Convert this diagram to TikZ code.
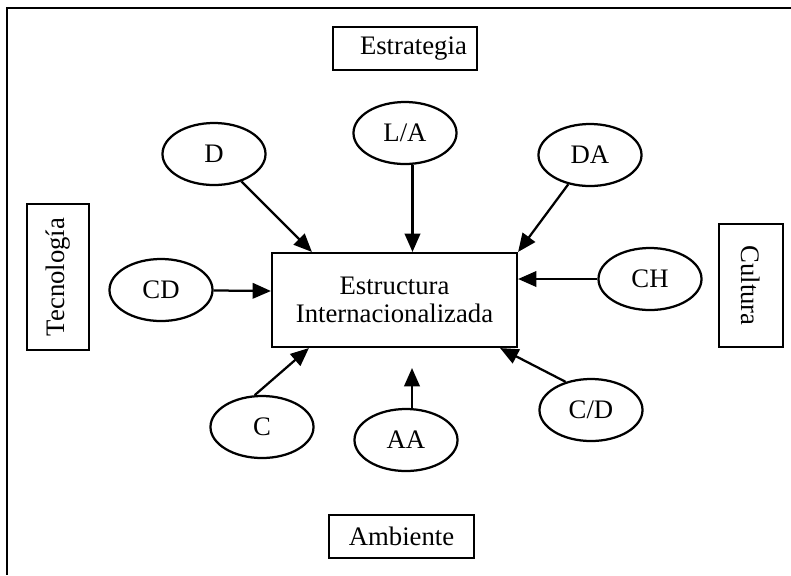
\documentclass[tikz,border=0pt]{standalone}
\usepackage{fontspec}
\setmainfont{Liberation Serif}
\usetikzlibrary{shapes.geometric, arrows.meta, calc}
\tikzset{
  frame/.style={draw=black, line width=1.8pt},
  side/.style={rectangle, draw=black, line width=1.5pt, align=center, inner sep=0pt},
  core/.style={rectangle, draw=black, line width=1.5pt, minimum width=6.125cm,
               minimum height=2.35cm, align=center},
  factor/.style={ellipse, draw=black, line width=1.6pt, minimum width=2.575cm,
                 minimum height=1.55cm, inner sep=0pt},
  flow/.style={-{Triangle[length=13pt, width=11pt]}, draw=black, line width=1.6pt}
}

\begin{document}
\begin{tikzpicture}[x=0.025cm, y=-0.025cm, every node/.style={font=\fontsize{19}{20}\selectfont}]
  \useasboundingbox (0,0) rectangle (791,575);
  \draw[frame] (791,8) -- (7,8) -- (7,575);

  % centro
  \node[core] (estr) at (394.5,300) {Estructura\\Internacionalizada};

  % marcos
  \node[side, minimum width=3.6cm, minimum height=1.075cm] (estrat) at (405,48.5) {\hspace*{12pt}Estrategia};
  \node[side, minimum width=3.625cm, minimum height=1.075cm] (amb) at (401.5,536.5) {Ambiente};
  \node[side, rotate=90, minimum width=3.65cm, minimum height=1.55cm] (tec) at (58,277) {Tecnología};
  \node[side, rotate=-90, minimum width=3.075cm, minimum height=1.6cm] (cult) at (751,285.5) {Cultura};

  % factores
  \node[factor] (d) at (214,154) {D};
  \node[factor] (la) at (405,133) {L/A};
  \node[factor] (da) at (590,155) {DA};
  \node[factor] (cd) at (161,290) {CD};
  \node[factor] (ch) at (650,279) {CH};
  \node[factor] (c) at (262,427) {C};
  \node[factor] (aa) at (406,440) {AA};
  \node[factor] (cdd) at (591,410) {C/D};

  \coordinate (latip) at ($(estr.north)+(18,0)$);
  \coordinate (aatip) at (412,368);

  \draw[flow] (d) -- ($(estr.north west)+(41,0)$);
  \draw[flow] (la.south -| latip) -- (latip);
  \draw[flow] (da) -- (estr.north east);
  \draw[flow] (cd) -- ($(estr.west)+(0,-9)$);
  \draw[flow] (ch) -- (ch -| estr.east);
  \draw[flow] (c.103) -- ($(estr.south west)+(38,0)$);
  \draw[flow] (aa.north -| aatip) -- (aatip);
  \draw[flow] (cdd.132) -- ($(estr.south east)+(-18,0)$);
\end{tikzpicture}
\end{document}
